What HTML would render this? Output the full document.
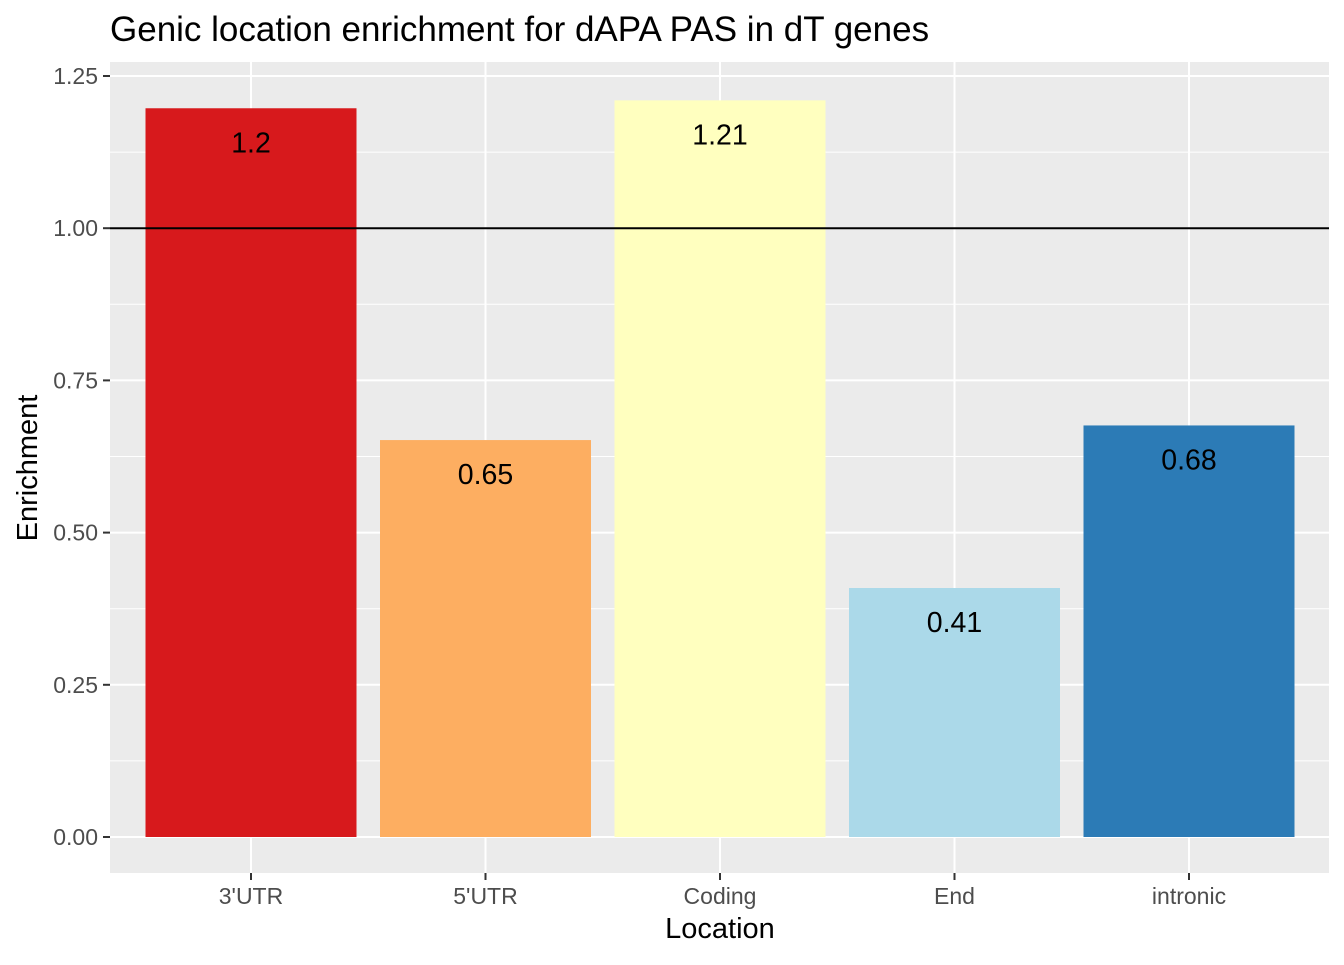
<!DOCTYPE html>
<html><head><meta charset="utf-8"><style>
body{margin:0;background:#fff;}
svg text{font-family:"Liberation Sans",Arial,sans-serif;}
</style></head><body>
<svg id="chart" width="1344" height="960" xmlns="http://www.w3.org/2000/svg">
<rect x="0" y="0" width="1344" height="960" fill="#fff"/>
<text x="110" y="41" font-size="35" fill="#000">Genic location enrichment for dAPA PAS in dT genes</text>
<rect x="110" y="62" width="1219" height="811" fill="#EBEBEB"/>
<g id="grid"></g>
<g id="bars"></g>
<line id="refline" x1="110" x2="1329" stroke="#000" stroke-width="2"/>
<g id="labels"></g>
<g id="yaxis"></g>
<g id="xaxis"></g>
<text x="720" y="938" font-size="29" text-anchor="middle" fill="#000">Location</text>
<text transform="translate(37,468) rotate(-90)" font-size="29" text-anchor="middle" fill="#000">Enrichment</text>
</svg>
<script>
const categories=["3'UTR","5'UTR","Coding","End","intronic"];
const values=[1.197,0.652,1.21,0.409,0.676];
const valueLabels=["1.2","0.65","1.21","0.41","0.68"];
const colors=["#D7191C","#FDAE61","#FFFFBF","#ABD9E9","#2C7BB6"];
const yTicks=[0,0.25,0.5,0.75,1,1.25];
const yTickLabels=["0.00","0.25","0.50","0.75","1.00","1.25"];
const refValue=1;
const NS="http://www.w3.org/2000/svg";
const y0=837,yScale=(837-76)/1.25;
function y(v){return y0-v*yScale;}
const step=234.5,x0=251,bw=211;
function x(i){return x0+i*step;}
function el(t,a,p){const e=document.createElementNS(NS,t);for(const k in a)e.setAttribute(k,a[k]);p.appendChild(e);return e;}
const grid=document.getElementById('grid'),bars=document.getElementById('bars'),labels=document.getElementById('labels'),ya=document.getElementById('yaxis'),xa=document.getElementById('xaxis');
for(let i=0;i<yTicks.length-1;i++){const m=(yTicks[i]+yTicks[i+1])/2;
 const g=el('line',{x1:110,x2:1329,y1:y(m),y2:y(m),stroke:'#fff','stroke-width':1},grid);
 
 }
yTicks.forEach((t,i)=>{
 const g=el('line',{x1:110,x2:1329,y1:y(t),y2:y(t),stroke:'#fff','stroke-width':2},grid);
 
 
 const tk=el('line',{x1:103,x2:110,y1:y(t),y2:y(t),stroke:'#333','stroke-width':2},ya);
 
 
 const tx=el('text',{x:98,y:y(t)+8,'font-size':23,'text-anchor':'end',fill:'#4D4D4D'},ya);
 tx.textContent=yTickLabels[i];
 
 
});
categories.forEach((c,i)=>{
 const g=el('line',{x1:x(i),x2:x(i),y1:62,y2:873,stroke:'#fff','stroke-width':2},grid);
 
 
 const b=el('rect',{x:x(i)-bw/2,y:y(values[i]),width:bw,height:y0-y(values[i]),fill:colors[i]},bars);
 
 
 const l=el('text',{x:x(i),y:y(values[i])+44,'font-size':28.5,'text-anchor':'middle',fill:'#000'},labels);
 l.textContent=valueLabels[i];
 
 
 const tk=el('line',{x1:x(i),x2:x(i),y1:873,y2:880,stroke:'#333','stroke-width':2},xa);
 
 
 const tx=el('text',{x:x(i),y:904,'font-size':23,'text-anchor':'middle',fill:'#4D4D4D'},xa);
 tx.textContent=c;
 
 
});
const rl=document.getElementById('refline');rl.setAttribute('y1',y(refValue));rl.setAttribute('y2',y(refValue));
</script>
</body></html>
